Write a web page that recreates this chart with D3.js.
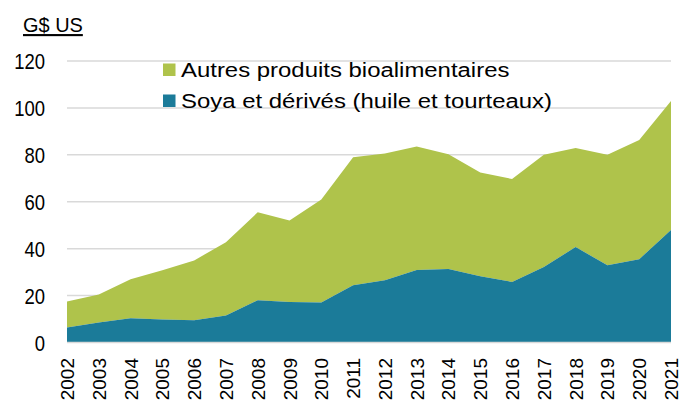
<!DOCTYPE html>
<html>
<head>
<meta charset="utf-8">
<script src="https://cdn.jsdelivr.net/npm/d3@7"></script>
<style>
  body { margin: 0; background: #fff; }
  svg { font-family: "Liberation Sans", Arial, sans-serif; }
</style>
</head>
<body>
<div id="chart"></div>
<script>
const years = ['2002','2003','2004','2005','2006','2007','2008','2009','2010','2011',
               '2012','2013','2014','2015','2016','2017','2018','2019','2020','2021'];
// soya and derivatives (bottom layer)
const soya = [6.4, 8.5, 10.3, 9.8, 9.5, 11.5, 18, 17.3, 17, 24.4,
              26.5, 30.9, 31.3, 28.2, 25.8, 32.2, 40.7, 32.9, 35.5, 48];
// total exports (top of the green layer)
const total = [17.5, 20.5, 27, 30.8, 35, 42.7, 55.5, 52, 61, 79,
               80.6, 83.5, 80.3, 72.5, 69.7, 80, 82.9, 80, 86.3, 103];
const yTicks = [0, 20, 40, 60, 80, 100, 120];
const legendLabels = ['Autres produits bioalimentaires', 'Soya et dérivés (huile et tourteaux)'];

const W = 696, H = 401;
const colors = { other: '#afc34b', soya: '#1b7b99', grid: '#d9d9d9' };

const svg = d3.select('#chart').append('svg')
    .attr('width', W).attr('height', H);

const x = d3.scalePoint().domain(years).range([67, 671]);
const y = d3.scaleLinear().domain([0, 120]).range([342.5, 61]);

// gridlines
svg.append('g')
    .selectAll('line')
    .data(yTicks.filter(d => d > 0))
    .join('line')
    .attr('x1', 67).attr('x2', 671)
    .attr('y1', d => y(d)).attr('y2', d => y(d))
    .attr('stroke', colors.grid).attr('stroke-width', 1.5);

const rows = years.map((yr, i) => ({ year: yr, soya: soya[i], total: total[i] }));

const areaTotal = d3.area()
    .x(d => x(d.year))
    .y0(d => y(d.soya))
    .y1(d => y(d.total));
const areaSoya = d3.area()
    .x(d => x(d.year))
    .y0(y(0))
    .y1(d => y(d.soya));

svg.append('path').attr('d', areaTotal(rows)).attr('fill', colors.other);
svg.append('path').attr('d', areaSoya(rows)).attr('fill', colors.soya);

// x axis line
svg.append('line')
    .attr('x1', 67).attr('x2', 671)
    .attr('y1', y(0)).attr('y2', y(0))
    .attr('stroke', colors.grid).attr('stroke-width', 1.5);

// y tick labels, condensed horizontally like the original
svg.append('g')
    .selectAll('text')
    .data(yTicks)
    .join('text')
    .attr('transform', d => 'translate(45,' + (y(d) + 8) + ')scale(0.84,1)')
    .attr('text-anchor', 'end')
    .attr('font-size', 22)
    .attr('fill', '#000')
    .text(d => d);

// x tick labels, rotated
svg.append('g')
    .selectAll('text')
    .data(years)
    .join('text')
    .attr('transform', d => 'translate(' + (x(d) + 7) + ',358)rotate(-90)')
    .attr('text-anchor', 'end')
    .attr('font-size', 19)
    .attr('fill', '#000')
    .text(d => d);

// unit label
svg.append('text')
    .attr('transform', 'translate(23,32)scale(0.95,1)')
    .attr('font-size', 21)
    .attr('text-decoration', 'underline')
    .attr('fill', '#000')
    .text('G$ US');

// legend (text is a bit wider than plain Arial in the original)
const legend = svg.append('g');
[colors.other, colors.soya].forEach((c, i) => {
    legend.append('rect')
        .attr('x', 163).attr('y', 63.5 + i * 31)
        .attr('width', 12.5).attr('height', 12.5)
        .attr('fill', c);
    legend.append('text')
        .attr('transform', 'translate(181,' + (77 + i * 31) + ')scale(1.14,1)')
        .attr('font-size', 21)
        .attr('fill', '#000')
        .text(legendLabels[i]);
});
</script>
</body>
</html>
